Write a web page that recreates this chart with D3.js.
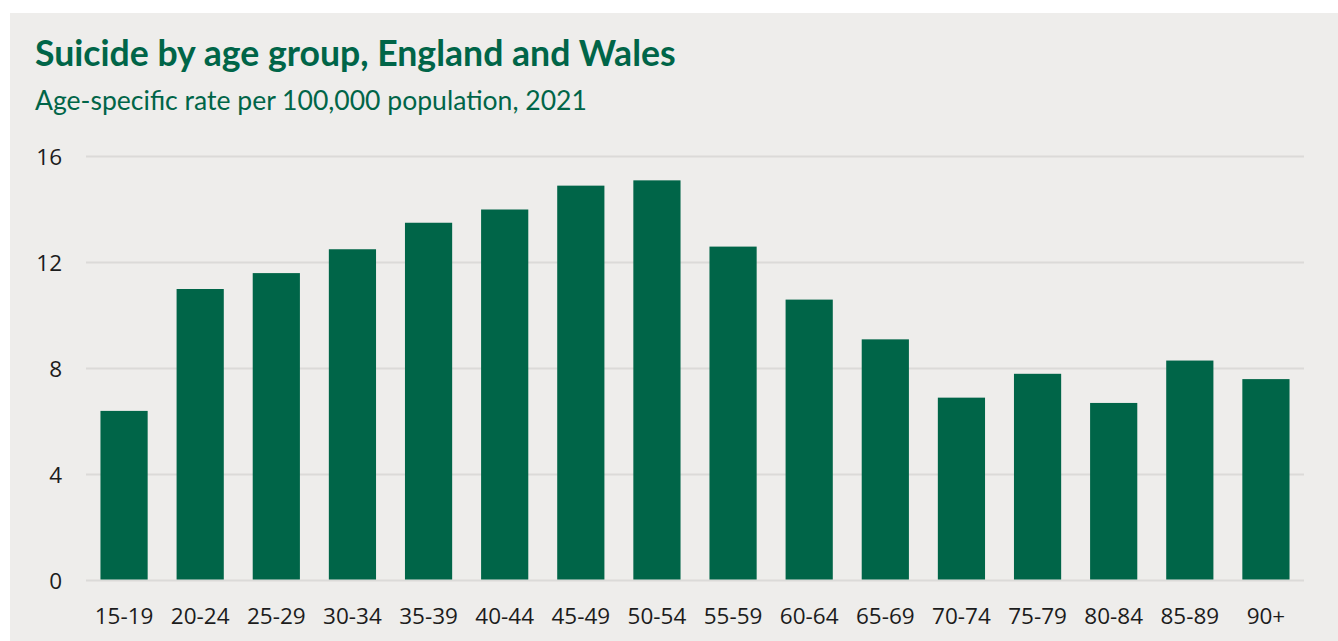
<!DOCTYPE html>
<html>
<head>
<meta charset="utf-8">
<script src="https://cdn.jsdelivr.net/npm/d3@7"></script>
<style>
  html, body { margin: 0; padding: 0; background: #ffffff; }
  svg { display: block; }
</style>
</head>
<body>
<div id="chart"></div>
<script>
// Age groups and age-specific suicide rates per 100,000 (England and Wales, 2021)
const ageGroups = ["15-19", "20-24", "25-29", "30-34", "35-39", "40-44", "45-49", "50-54",
                   "55-59", "60-64", "65-69", "70-74", "75-79", "80-84", "85-89", "90+"];
const rates = [6.4, 11.0, 11.6, 12.5, 13.5, 14.0, 14.9, 15.1,
               12.6, 10.6, 9.1, 6.9, 7.8, 6.7, 8.3, 7.6];
const yTicks = [0, 4, 8, 12, 16];

const titleText = "Suicide by age group, England and Wales";
const subtitleText = "Age-specific rate per 100,000 population, 2021";

const W = 1338, H = 641;
const green = "#006548";
const panelFill = "#eeedeb";
const gridColor = "#dbdad8";
const tickColor = "#1c1c1c";

const margin = { left: 86, right: 34, top: 156.5, bottom: 60.5 };

const svg = d3.select("#chart").append("svg")
  .attr("width", W).attr("height", H);

// panel background
svg.append("rect")
  .attr("x", 10).attr("y", 13)
  .attr("width", W - 10).attr("height", H - 13)
  .attr("fill", panelFill);

// headings, sized so each spans its measured width
function fittedText(txt, x, y, targetWidth, weight, baseSize) {
  const t = svg.append("text")
    .attr("x", x).attr("y", y)
    .attr("fill", green)
    .attr("font-family", "Lato, 'Open Sans', sans-serif")
    .attr("font-weight", weight)
    .attr("font-size", baseSize)
    .text(txt);
  const w = t.node().getComputedTextLength();
  if (w > 0) t.attr("font-size", baseSize * targetWidth / w);
  return t;
}
fittedText(titleText, 35, 66, 641, 700, 30);
fittedText(subtitleText, 35, 109.5, 552, 400, 23);

const x = d3.scaleBand()
  .domain(ageGroups)
  .range([margin.left, W - margin.right])
  .paddingInner(0.38)
  .paddingOuter(0.19);

const y = d3.scaleLinear()
  .domain([0, 16])
  .range([H - margin.bottom, margin.top]);

// horizontal gridlines
svg.append("g")
  .selectAll("line")
  .data(yTicks)
  .join("line")
  .attr("x1", margin.left).attr("x2", W - margin.right)
  .attr("y1", d => y(d)).attr("y2", d => y(d))
  .attr("stroke", gridColor)
  .attr("stroke-width", 2);

// y axis labels
const yAxis = svg.append("g")
  .attr("transform", `translate(${margin.left - 24},0)`)
  .call(d3.axisLeft(y).tickValues(yTicks).tickSize(0).tickPadding(0).tickFormat(d3.format("d")));
yAxis.select(".domain").remove();
yAxis.selectAll("text")
  .attr("fill", tickColor)
  .attr("font-family", "'Open Sans', sans-serif")
  .attr("font-size", 22.5)
  .attr("dy", "0.36em");

// bars
svg.append("g")
  .selectAll("rect")
  .data(ageGroups.map((g, i) => ({ group: g, value: rates[i] })))
  .join("rect")
  .attr("x", d => x(d.group))
  .attr("width", x.bandwidth())
  .attr("y", d => y(d.value))
  .attr("height", d => y(0) - y(d.value) - 1)
  .attr("fill", green);

// x axis labels
const xAxis = svg.append("g")
  .attr("transform", `translate(0,${y(0)})`)
  .call(d3.axisBottom(x).tickSize(0).tickPadding(0));
xAxis.select(".domain").remove();
xAxis.selectAll("text")
  .attr("fill", tickColor)
  .attr("font-family", "'Open Sans', sans-serif")
  .attr("font-size", 22.5)
  .attr("dy", 0)
  .attr("y", 43);
</script>
</body>
</html>
